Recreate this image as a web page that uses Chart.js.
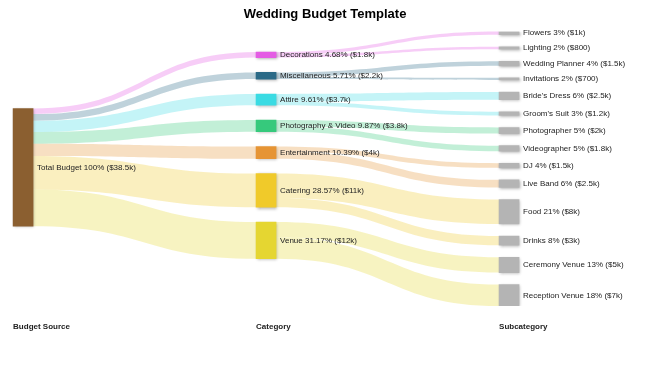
<!DOCTYPE html>
<html>
<head>
<meta charset="utf-8">
<title>Wedding Budget Template</title>
<script src="https://cdn.jsdelivr.net/npm/chart.js@4.4.1/dist/chart.umd.min.js"></script>
<style>
  body { margin: 0; background: #fff; }
</style>
</head>
<body>
<canvas id="budget-chart" width="650" height="366"></canvas>
<script>
const columnLabels = ['Budget Source', 'Category', 'Subcategory'];

const sourceLabel = 'Total Budget';
const sourcePercent = '100';

const categories = ['Decorations', 'Miscellaneous', 'Attire', 'Photography & Video', 'Entertainment', 'Catering', 'Venue'];
const categoryValues = [1800, 2200, 3700, 3800, 4000, 11000, 12000];
const categoryPercents = ['4.68', '5.71', '9.61', '9.87', '10.39', '28.57', '31.17'];

const subcategories = ['Flowers', 'Lighting', 'Wedding Planner', 'Invitations', "Bride's Dress", "Groom's Suit",
    'Photographer', 'Videographer', 'DJ', 'Live Band', 'Food', 'Drinks', 'Ceremony Venue', 'Reception Venue'];
const subcategoryParent = [0, 0, 1, 1, 2, 2, 3, 3, 4, 4, 5, 5, 6, 6];
const subcategoryValues = [1000, 800, 1500, 700, 2500, 1200, 2000, 1800, 1500, 2500, 8000, 3000, 5000, 7000];
const subcategoryPercents = [3, 2, 4, 2, 6, 3, 5, 5, 4, 6, 21, 8, 13, 18];

// colours
const sourceColor = '#8b5f30';
const categoryColors = ['#e45be4', '#2b6a87', '#3adbe3', '#36c97c', '#e69434', '#f0ca2a', '#e5d631'];
const subcategoryColor = '#b4b4b4';
const linkAlpha = 0.3;

// layout, in dollars along the y scale
const sourceTop = 25200;
const categoryTop = 6700;
const categoryGap = 4860;
const subcategoryGap = 3950;
const xMin = -0.095, xMax = 2.58;

Chart.defaults.font.family = '"Liberation Sans", Arial, sans-serif';

function money(v) {
    return v >= 1000 ? '$' + (v / 1000) + 'k' : '$' + v;
}

function fade(hex, a) {
    var n = parseInt(hex.slice(1), 16);
    return 'rgba(' + (n >> 16) + ',' + ((n >> 8) & 255) + ',' + (n & 255) + ',' + a + ')';
}

var total = categoryValues.reduce((a, b) => a + b, 0);
var yMax = subcategoryValues.reduce((a, b) => a + b, 0) + subcategoryGap * (subcategoryValues.length - 1);

// nodes
var nodes = [];
nodes.push({col: 0, y0: sourceTop, v: total, color: sourceColor,
    label: sourceLabel + ' ' + sourcePercent + '% (' + money(total) + ')'});

var catNodes = [];
var y = categoryTop;
categories.forEach(function(c, i) {
    var n = {col: 1, y0: y, v: categoryValues[i], color: categoryColors[i],
        label: c + ' ' + categoryPercents[i] + '% (' + money(categoryValues[i]) + ')'};
    nodes.push(n);
    catNodes.push(n);
    y += categoryValues[i] + categoryGap;
});

var subNodes = [];
y = 0;
subcategories.forEach(function(s, i) {
    var n = {col: 2, y0: y, v: subcategoryValues[i], color: subcategoryColor,
        label: s + ' ' + subcategoryPercents[i] + '% (' + money(subcategoryValues[i]) + ')'};
    nodes.push(n);
    subNodes.push(n);
    y += subcategoryValues[i] + subcategoryGap;
});

// links
var links = [];
var off = sourceTop;
categoryValues.forEach(function(v, i) {
    links.push({c0: 0, c1: 1, s: off, t: catNodes[i].y0, v: v, color: fade(categoryColors[i], linkAlpha)});
    off += v;
});
var catOff = catNodes.map(n => n.y0);
subcategoryValues.forEach(function(v, j) {
    var p = subcategoryParent[j];
    links.push({c0: 1, c1: 2, s: catOff[p], t: subNodes[j].y0, v: v, color: fade(categoryColors[p], linkAlpha)});
    catOff[p] += v;
});

const sankeyPlugin = {
    id: 'sankeyPlugin',
    beforeDatasetsDraw(chart) {
        const ctx = chart.ctx;
        const xs = chart.scales.x, ys = chart.scales.y;
        const half = chart.getDatasetMeta(0).data[0].width / 2;
        ctx.save();
        links.forEach(function(l) {
            var x0 = xs.getPixelForValue(l.c0) + half;
            var x1 = xs.getPixelForValue(l.c1) - half;
            var xm = (x0 + x1) / 2;
            var a0 = ys.getPixelForValue(l.s), b0 = ys.getPixelForValue(l.s + l.v);
            var a1 = ys.getPixelForValue(l.t), b1 = ys.getPixelForValue(l.t + l.v);
            ctx.beginPath();
            ctx.moveTo(x0, a0);
            ctx.bezierCurveTo(xm, a0, xm, a1, x1, a1);
            ctx.lineTo(x1, b1);
            ctx.bezierCurveTo(xm, b1, xm, b0, x0, b0);
            ctx.closePath();
            ctx.fillStyle = l.color;
            ctx.fill();
        });
        ctx.restore();
        // node shadow
        ctx.save();
        ctx.shadowColor = 'rgba(0,0,0,0.3)';
        ctx.shadowBlur = 3;
        ctx.shadowOffsetX = 1;
        ctx.shadowOffsetY = 1;
    },
    afterDatasetsDraw(chart) {
        const ctx = chart.ctx;
        ctx.restore();
        const meta = chart.getDatasetMeta(0);
        ctx.save();
        ctx.font = '8px "Liberation Sans", Arial, sans-serif';
        ctx.fillStyle = '#222';
        ctx.textAlign = 'left';
        ctx.textBaseline = 'middle';
        meta.data.forEach(function(bar, i) {
            var midY = (bar.y + bar.base) / 2;
            ctx.fillText(nodes[i].label, bar.x + bar.width / 2 + 4, midY);
        });
        ctx.restore();
    }
};

var ctx = document.getElementById('budget-chart').getContext('2d');
var budgetChart = new Chart(ctx, {
    type: 'bar',
    data: {
        datasets: [{
            label: 'Nodes',
            data: nodes.map(n => ({x: n.col, y: [n.y0, n.y0 + n.v]})),
            backgroundColor: nodes.map(n => n.color),
            borderWidth: 0,
            barThickness: 20
        }]
    },
    options: {
        responsive: false,
        animation: false,
        events: [],
        layout: {
            padding: {top: 0, left: 0, right: 0, bottom: 18.4}
        },
        scales: {
            x: {
                type: 'linear',
                min: xMin,
                max: xMax,
                offset: false,
                grid: {display: false, drawTicks: false},
                border: {display: false},
                afterBuildTicks: function(scale) {
                    scale.ticks = columnLabels.map((l, i) => ({value: i}));
                },
                ticks: {
                    autoSkip: false,
                    maxRotation: 0,
                    align: 'start',
                    labelOffset: -10,
                    padding: 16,
                    color: '#222',
                    font: {size: 8, weight: 'bold'},
                    callback: function(value) {
                        return columnLabels[value];
                    }
                }
            },
            y: {
                type: 'linear',
                display: false,
                reverse: true,
                min: 0,
                max: yMax
            }
        },
        plugins: {
            legend: {display: false},
            tooltip: {enabled: false},
            title: {
                display: true,
                text: 'Wedding Budget Template',
                color: '#000',
                font: {size: 13, weight: 'bold'},
                padding: {top: 7, bottom: 9}
            }
        }
    },
    plugins: [sankeyPlugin]
});
</script>
</body>
</html>
